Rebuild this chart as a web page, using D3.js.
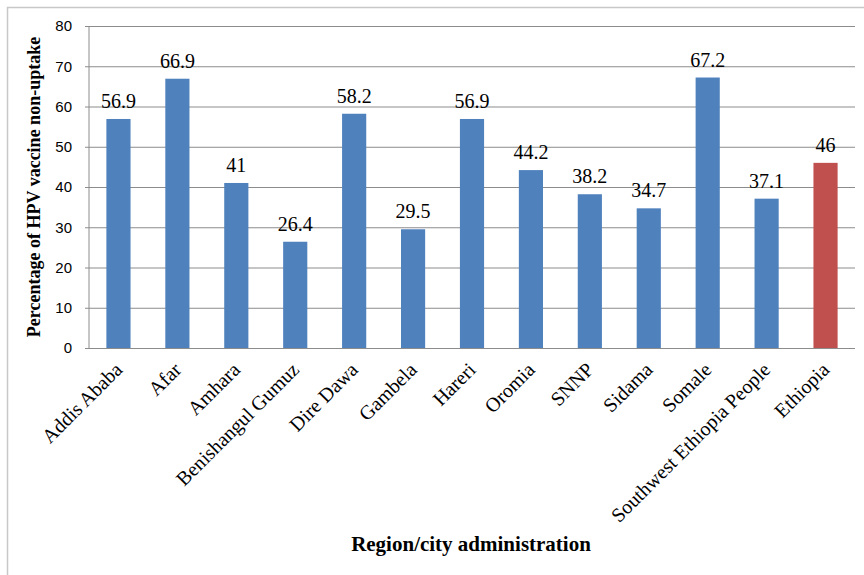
<!DOCTYPE html>
<html>
<head>
<meta charset="utf-8">
<script src="https://cdn.jsdelivr.net/npm/d3@7"></script>
<style>
  body { margin: 0; background: #fff; }
</style>
</head>
<body>
<div id="chart-area"></div>
<script>
// data
var regions = ["Addis Ababa", "Afar", "Amhara", "Benishangul Gumuz", "Dire Dawa", "Gambela",
    "Hareri", "Oromia", "SNNP", "Sidama", "Somale", "Southwest Ethiopia People", "Ethiopia"];
var nonUptake = [56.9, 66.9, 41, 26.4, 58.2, 29.5, 56.9, 44.2, 38.2, 34.7, 67.2, 37.1, 46];
var yTicks = [0, 10, 20, 30, 40, 50, 60, 70, 80];

var margin = {top: 26, right: 9, bottom: 227, left: 89},
    width = 864 - margin.left - margin.right,
    height = 575 - margin.top - margin.bottom;

var svg = d3.select("#chart-area").append("svg")
    .attr("width", 864)
    .attr("height", 575);

// outer frame
svg.append("rect")
    .attr("x", 7.5).attr("y", 7.5)
    .attr("width", 870).attr("height", 600)
    .attr("fill", "none")
    .attr("stroke", "#c8c8c8")
    .attr("stroke-width", 1.5);

var g = svg.append("g")
    .attr("transform", "translate(" + margin.left + "," + margin.top + ")");

// scales
var x = d3.scaleBand().domain(regions).range([0, 766]).paddingInner(0.59).paddingOuter(0.295);
var y = d3.scaleLinear().domain([0, 80]).range([height, 0]);

// gridlines + y axis
var yAxis = g.append("g")
    .call(d3.axisLeft(y).tickValues(yTicks).tickSize(-766).tickSizeOuter(0).tickPadding(17));
yAxis.select(".domain").remove();
yAxis.selectAll(".tick line").attr("x1", -4).attr("stroke", "#8c8c8c");
yAxis.selectAll(".tick text")
    .attr("fill", "#000")
    .style("font-family", "Arial, 'Liberation Sans', sans-serif")
    .style("font-size", "15px");

// y axis line
g.append("line")
    .attr("x1", 0).attr("x2", 0)
    .attr("y1", 0).attr("y2", height)
    .attr("stroke", "#8c8c8c");

// bars
g.selectAll(".bar")
    .data(regions)
    .enter()
    .append("rect")
    .attr("class", "bar")
    .attr("x", function(d){ return x(d); })
    .attr("y", function(d, i){ return y(nonUptake[i]); })
    .attr("width", x.bandwidth())
    .attr("height", function(d, i){ return height - y(nonUptake[i]); })
    .attr("fill", function(d, i){ return i === regions.length - 1 ? "#C0504D" : "#4F81BD"; });

// value labels
g.selectAll(".val")
    .data(regions)
    .enter()
    .append("text")
    .attr("class", "val")
    .attr("x", function(d){ return x(d) + x.bandwidth() / 2; })
    .attr("y", function(d, i){ return y(nonUptake[i]) - 11; })
    .attr("text-anchor", "middle")
    .style("font-family", "'Times New Roman', 'Liberation Serif', serif")
    .style("font-size", "20px")
    .text(function(d, i){ return nonUptake[i]; });

// category labels
g.selectAll(".cat")
    .data(regions)
    .enter()
    .append("text")
    .attr("class", "cat")
    .attr("transform", function(d){
        return "translate(" + (x(d) + x.bandwidth() / 2 + 5) + "," + (height + 23) + ") rotate(-45)";
    })
    .attr("text-anchor", "end")
    .style("font-family", "'Times New Roman', 'Liberation Serif', serif")
    .style("font-size", "20px")
    .text(function(d){ return d; });

// axis titles
svg.append("text")
    .attr("transform", "translate(40," + (margin.top + height / 2) + ") rotate(-90)")
    .attr("text-anchor", "middle")
    .style("font-family", "'Times New Roman', 'Liberation Serif', serif")
    .style("font-weight", "bold")
    .style("font-size", "18px")
    .text("Percentage of HPV vaccine non-uptake");

svg.append("text")
    .attr("x", 471)
    .attr("y", 551)
    .attr("text-anchor", "middle")
    .style("font-family", "'Times New Roman', 'Liberation Serif', serif")
    .style("font-weight", "bold")
    .style("font-size", "21px")
    .text("Region/city administration");
</script>
</body>
</html>
